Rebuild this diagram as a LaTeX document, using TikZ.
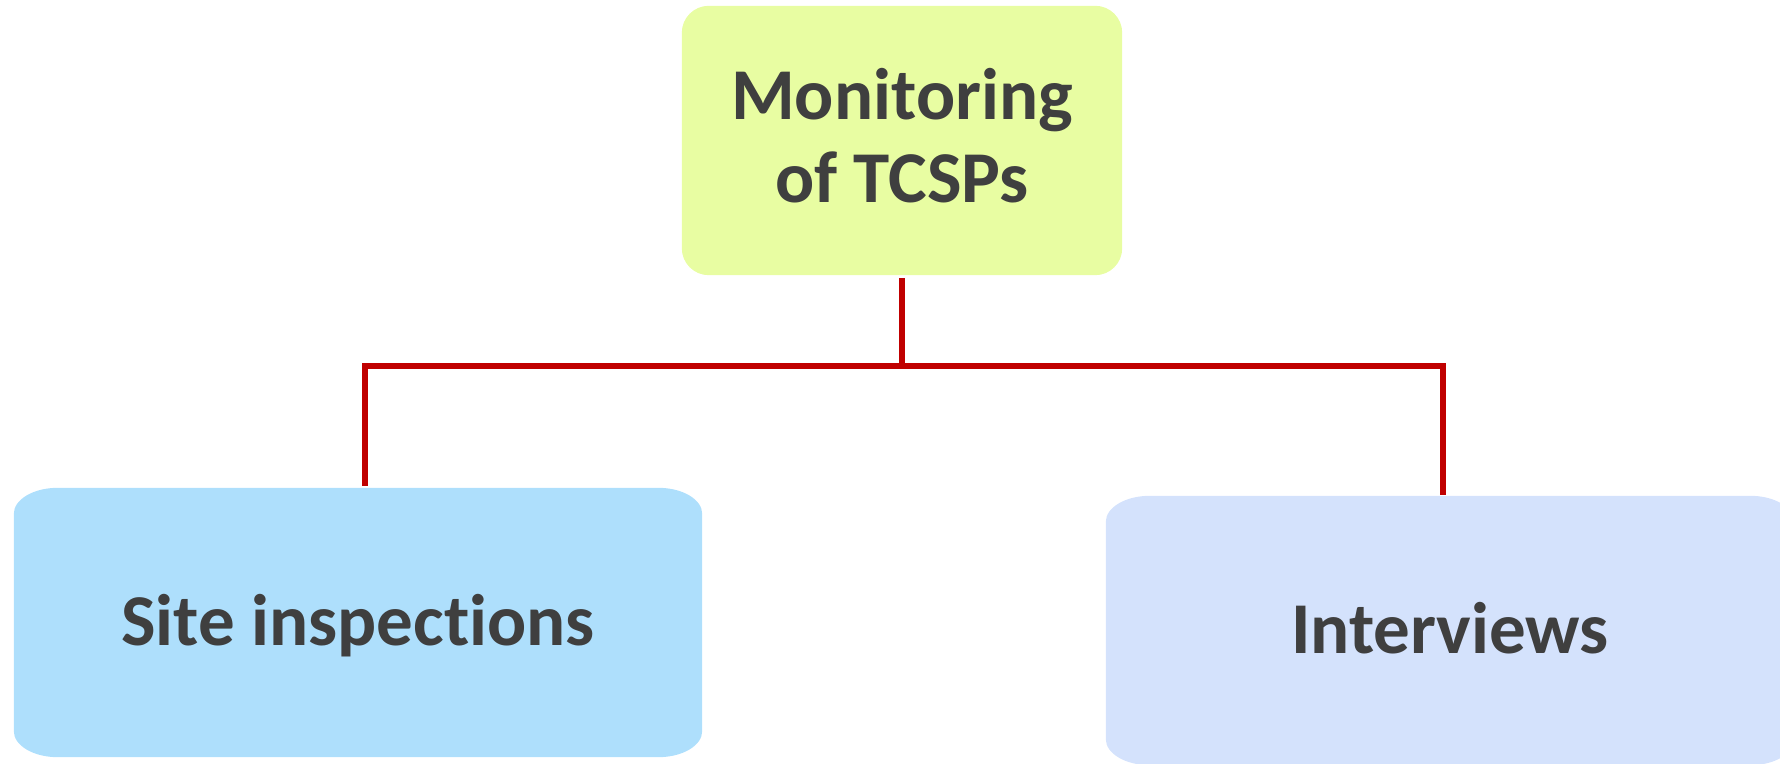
\documentclass[tikz,border=0pt]{standalone}
\usepackage{fontspec}
\setmainfont{Carlito}[Ligatures={NoCommon}]
\usetikzlibrary{backgrounds}
\definecolor{topfill}{HTML}{E8FDA2}
\definecolor{sitefill}{HTML}{AEDFFC}
\definecolor{intfill}{HTML}{D4E2FC}
\definecolor{linered}{HTML}{C00000}
\definecolor{txt}{HTML}{3F3F3F}
\newcommand\ellbox[4]{%
  \fill[#4] ([xshift=#2]#1.north west) -- ([xshift=-#2]#1.north east)
    arc[start angle=90,end angle=0,x radius=#2,y radius=#3]
    -- ([yshift=#3]#1.south east)
    arc[start angle=0,end angle=-90,x radius=#2,y radius=#3]
    -- ([xshift=#2]#1.south west)
    arc[start angle=270,end angle=180,x radius=#2,y radius=#3]
    -- ([yshift=-#3]#1.north west)
    arc[start angle=180,end angle=90,x radius=#2,y radius=#3] -- cycle;}
\tikzset{
  boxtext/.style={inner sep=0pt, text=txt, align=center,
    font=\bfseries\fontsize{73}{83}\selectfont},
  conn/.style={draw=linered, line width=6pt}
}
\begin{document}
\begin{tikzpicture}[x=1pt,y=1pt]
\useasboundingbox (0,0) rectangle (1780,763);
\node[boxtext, minimum width=440pt, minimum height=269pt] (top) at (902,622.5) {Monitoring\\of TCSPs\rule[-10pt]{0pt}{1pt}};
\node[boxtext, minimum width=688pt, minimum height=269pt, text height=46pt, text depth=0pt] (site) at (358,140.5) {Site inspections};
\node[boxtext, minimum width=688pt, minimum height=269pt, text height=46pt, text depth=0pt] (int) at (1450,132.5) {Interviews};
\begin{scope}[on background layer]
  \ellbox{top}{27pt}{27pt}{topfill}
  \ellbox{site}{44pt}{26pt}{sitefill}
  \ellbox{int}{44pt}{26pt}{intfill}
\end{scope}
\coordinate (j) at (902,397);
\draw[conn] ([yshift=-3pt]top.south) -- (top.south |- j);
\draw[conn] ([xshift=7pt,yshift=2pt]site.north) -- ([xshift=7pt]site.north |- j)
  -- ([xshift=-7pt]int.north |- j) -- ([xshift=-7pt,yshift=1pt]int.north);
\end{tikzpicture}
\end{document}
